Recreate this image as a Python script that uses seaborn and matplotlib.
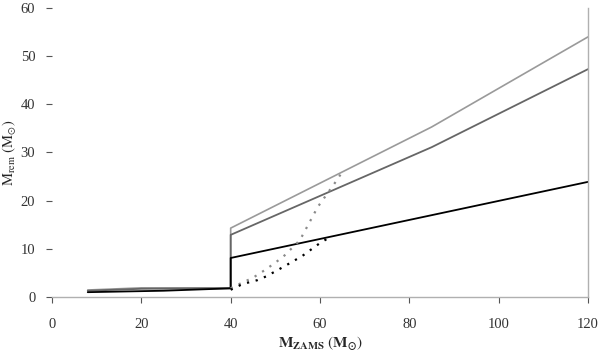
import matplotlib
matplotlib.use("Agg")
import matplotlib.pyplot as plt
import seaborn as sns
import pandas as pd

# Data
light_x = [8, 20, 40, 40, 85, 120]
light_y = [1.45, 1.9, 1.9, 14.3, 35.3, 54.0]

dark_x = [8, 20, 40, 40, 85, 120]
dark_y = [1.3, 1.7, 1.8, 12.9, 31.1, 47.3]

black_x = [8, 25, 40, 40, 60, 120]
black_y = [1.0, 1.3, 1.8, 8.1, 12.05, 23.9]

gdot_x = [40, 41, 45, 48, 51.7, 55.5, 59.5, 63.5, 65]
gdot_y = [1.8, 2.3, 4.0, 5.8, 8.3, 11.8, 18.7, 23.9, 26.0]

bdot_x = [40, 42.7, 46, 48, 51.7, 56, 60, 62]
bdot_y = [1.5, 2.7, 3.5, 4.3, 6.2, 8.5, 11.2, 12.3]

sns.set_style("white")
plt.rcParams["font.family"] = ["Liberation Serif", "DejaVu Serif"]
plt.rcParams["mathtext.fontset"] = "stix"

fig = plt.figure(figsize=(6.0, 3.55), dpi=100)
ax = fig.add_axes([0.0867, 0.1634, 0.8933, 0.8141])

def draw(x, y, color, ls, lw):
    df = pd.DataFrame({"x": x, "y": y})
    sns.lineplot(data=df, x="x", y="y", ax=ax, color=color, linestyle=ls,
                 linewidth=lw, sort=False, estimator=None)

draw(light_x, light_y, "#9a9a9a", "-", 1.2)
draw(dark_x, dark_y, "#666666", "-", 1.3)
draw(black_x, black_y, "#000000", "-", 1.3)
draw(gdot_x, gdot_y, "#8a8a8a", (0, (1, 3)), 1.6)
draw(bdot_x, bdot_y, "#000000", (0, (1, 3)), 1.6)

ax.set_xlim(0, 120)
ax.set_ylim(0, 60)
ax.set_xticks([0, 20, 40, 60, 80, 100, 120])
ax.set_yticks([0, 10, 20, 30, 40, 50, 60])

for s in ["top", "left"]:
    ax.spines[s].set_visible(False)
for s in ["bottom", "right"]:
    ax.spines[s].set_color("#b0b0b0")
    ax.spines[s].set_linewidth(1.0)

ax.tick_params(axis="both", which="both", length=4, width=0.8, color="#555555",
               labelsize=10.5, labelcolor="#333333", direction="out")
ax.tick_params(axis="y", left=True, right=False, pad=8)
ax.tick_params(axis="x", bottom=True, pad=11)

ax.set_xlabel(r"$\mathbf{M_{ZAMS}}\ (\mathbf{M_{\odot}})$", fontsize=11)
ax.xaxis.set_label_coords(0.5, -0.13)
ax.set_ylabel(r"$\mathrm{M_{rem}}\ (\mathrm{M_{\odot}})$", fontsize=10.5)
ax.yaxis.set_label_coords(-0.064, 0.5)

fig.savefig("out.png", dpi=100)
